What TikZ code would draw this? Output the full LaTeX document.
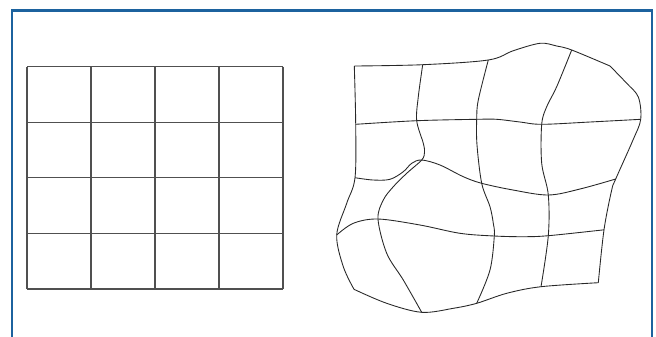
\documentclass[tikz,border=0pt]{standalone}
\usepackage{tikz}
\usetikzlibrary{calc}
\definecolor{FrameBlue}{RGB}{28,98,158}
\definecolor{GridLine}{RGB}{80,80,80}
\definecolor{WarpLine}{RGB}{40,40,40}
\tikzset{
  frame_box/.style={draw=FrameBlue,line width=1.3pt},
  grid_line/.style={draw=GridLine,line width=0.6pt},
  warp_line/.style={draw=WarpLine,line width=0.5pt,smooth,tension=0.55},
}

\begin{document}
\begin{tikzpicture}[x=0.02cm,y=-0.02cm]
\useasboundingbox (0,0) rectangle (656,336);
\clip (0,0) rectangle (656,336);
\draw[frame_box] (12,10.5) rectangle (652,360);
% regular grid
\def\gL{27}\def\gR{283}\def\gT{66.5}\def\gB{289}
\foreach \i in {0,...,4}{
  \draw[grid_line] ({\gL+64*\i},\gT) -- ({\gL+64*\i},\gB);
  \draw[grid_line] (\gL,{\gT+55.625*\i}) -- (\gR,{\gT+55.625*\i});
}
% warped grid points
\coordinate (q00) at (354.3,66);   \coordinate (q10) at (422.7,64.7);
\coordinate (q20) at (488.3,60);   \coordinate (q30) at (571.7,50);
\coordinate (q40) at (610,66);
\coordinate (q01) at (355.7,124.3);\coordinate (q11) at (416.7,120.7);
\coordinate (q21) at (476.7,119.3);\coordinate (q31) at (541.7,124.3);
\coordinate (q41) at (640.7,119.3);
\coordinate (q02) at (355,177.7);  \coordinate (q12) at (421.7,160);
\coordinate (q22) at (481.7,183.3);\coordinate (q32) at (548.3,195);
\coordinate (q42) at (615.7,179);
\coordinate (q03) at (336.7,235);  \coordinate (q13) at (378,219);
\coordinate (q23) at (494.3,236);  \coordinate (q33) at (548.3,235.7);
\coordinate (q43) at (604,229.8);
\coordinate (q04) at (354,289.3);  \coordinate (q14) at (421.7,312.3);
\coordinate (q24) at (476.7,303.3);\coordinate (q34) at (541,286.7);
\coordinate (q44) at (598.3,282.7);
% rows
\draw[warp_line] plot coordinates {(q00) (q10) (q20) (513.3,50.7) (540,43.3) (556.7,46) (q30) (q40)};
\draw[warp_line] plot coordinates {(q01) (q11) (q21) (496.7,119.3) (520,122) (q31) (590,122) (q41)};
\draw[warp_line] plot coordinates {(q02) (373,180) (390,179.3) (403.3,171.7) (411.7,163.3) (q12) (440,165) (463.3,176.7) (q22) (513,190) (q32) (580,189) (q42)};
\draw[warp_line] plot coordinates {(q03) (353.3,223.3) (q13) (420,225) (460,233.3) (q23) (523.3,236.7) (q33) (q43)};
\draw[warp_line] plot coordinates {(q04) (386.7,303.3) (q14) (453.3,308.3) (q24) (506.7,293.3) (q34) (q44)};
% columns
\draw[warp_line] plot coordinates {(q00) (q01) (q02) (346.7,203.3) (q03) (343.3,266.7) (q04)};
\draw[warp_line] plot coordinates {(q10) (418.3,96.7) (q11) (423.3,143.3) (424.5,152.5) (q12) (406.7,173.3) (393.3,186.7) (383.3,200) (q13) (386.7,253.3) (403.3,280) (q14)};
\draw[warp_line] plot coordinates {(q20) (478.3,100) (q21) (477,145) (q22) (490,206.7) (493.3,223.3) (q23) (490,270) (q24)};
\draw[warp_line] plot coordinates {(q30) (556.7,86.7) (546.7,106.7) (q31) (541.7,163.3) (q32) (q33) (q34)};
\draw[warp_line] plot coordinates {(q40) (626.7,83.3) (638.3,97) (q41) (633,140) (q42) (611.7,190) (q43) (q44)};
\end{tikzpicture}
\end{document}
